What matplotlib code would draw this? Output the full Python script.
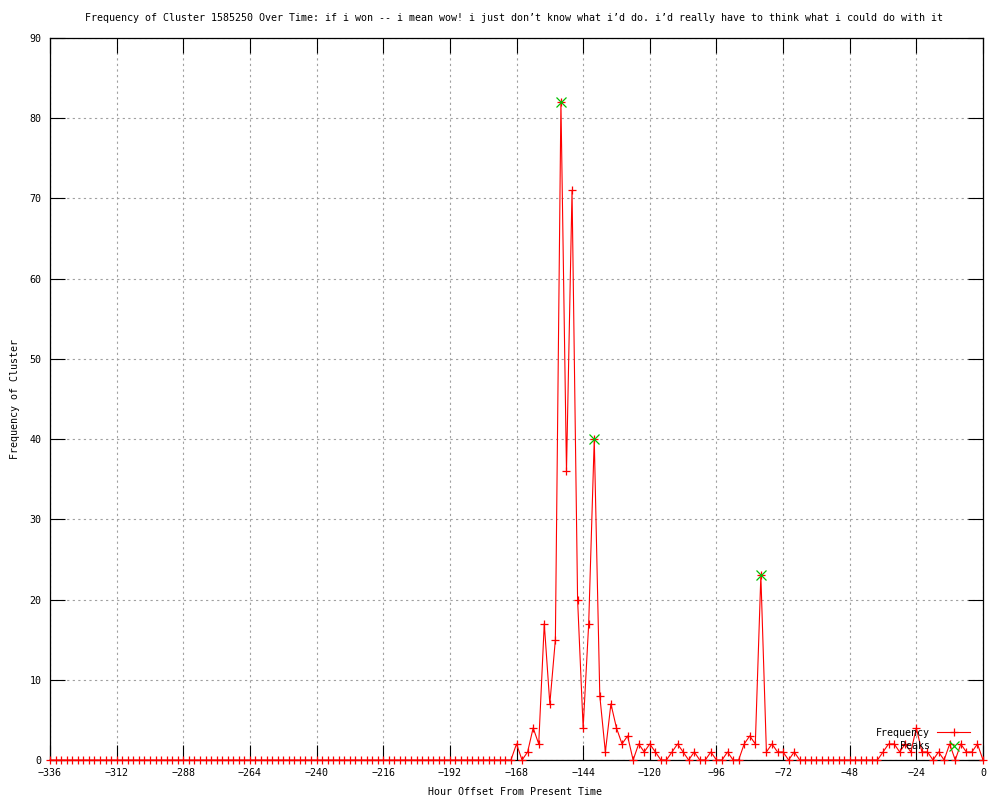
import numpy as np
import matplotlib
matplotlib.use('Agg')
import matplotlib.pyplot as plt

plt.rcParams['font.family'] = ['DejaVu Sans Mono']
plt.rcParams['font.size'] = 7.2

# hour offsets, every 2 hours from -336 to 0
hours = np.arange(-336, 1, 2)

freq_old = [0] * 84  # -336 .. -170, nothing
freq_burst = [2, 0, 1, 4, 2, 17, 7, 15, 82, 36, 71, 20, 4, 17, 40, 8, 1, 7, 4, 2, 3, 0, 2, 1, 2]
freq_mid = [1, 0, 0, 1, 2, 1, 0, 1, 0, 0, 1, 0, 0, 1, 0, 0, 2, 3, 2, 23, 1, 2, 1, 1, 0, 1]
freq_quiet = [0] * 15  # -66 .. -38
freq_recent = [1, 2, 2, 1, 2, 1, 4, 1, 1, 0, 1, 0, 2, 0, 2, 1, 1, 2, 0]
freq = freq_old + freq_burst + freq_mid + freq_quiet + freq_recent

peak_hours = [-152, -140, -80]
peak_vals = [82, 40, 23]

title = ("Frequency of Cluster 1585250 Over Time: if i won -- i mean wow! i just don\u2019t "
         "know what i\u2019d do. i\u2019d really have to think what i could do with it")

fig = plt.figure(figsize=(10, 8), dpi=100)
ax = fig.add_axes([0.05, 0.05, 0.933, 0.9025])

ax.plot(hours, freq, color='#ff0000', lw=0.8, marker='+', ms=5.5, mew=0.9,
        label='Frequency', clip_on=False, zorder=3)
ax.plot(peak_hours, peak_vals, ls='none', color='#00c000', marker='x', ms=6.5, mew=0.9,
        label='Peaks', clip_on=False, zorder=4)

ax.set_xlim(-336, 0)
ax.set_ylim(0, 90)
ax.set_xticks(np.arange(-336, 1, 24))
ax.set_yticks(np.arange(0, 91, 10))
ax.tick_params(direction='in', length=11, width=0.8, top=True, right=True,
               labelsize=7.2, pad=6, color='black')
ax.grid(True, color='#a0a0a0', ls=(0, (2, 3)), lw=0.8)
for s in ax.spines.values():
    s.set_linewidth(0.9)
    s.set_color('black')

fig.text(0.514, 1 - 18 / 800, title, ha='center', va='center', fontsize=7.2)
ax.set_xlabel('Hour Offset From Present Time', fontsize=7.2)
ax.xaxis.set_label_coords((515 - 50) / 933, (760 - 787) / 722)
ax.set_ylabel('Frequency of Cluster', fontsize=7.2)
ax.yaxis.set_label_coords((20 - 50) / 933, 0.5)

leg = ax.legend(loc='lower right', frameon=False, fontsize=7.2, markerfirst=False,
                handlelength=3.3, handletextpad=0.7, borderaxespad=0, borderpad=0,
                labelspacing=0.35, bbox_to_anchor=((970 - 50) / 933, 0.012))
for t in leg.get_texts():
    t.set_ha('right')

fig.savefig('out.png', dpi=100)
